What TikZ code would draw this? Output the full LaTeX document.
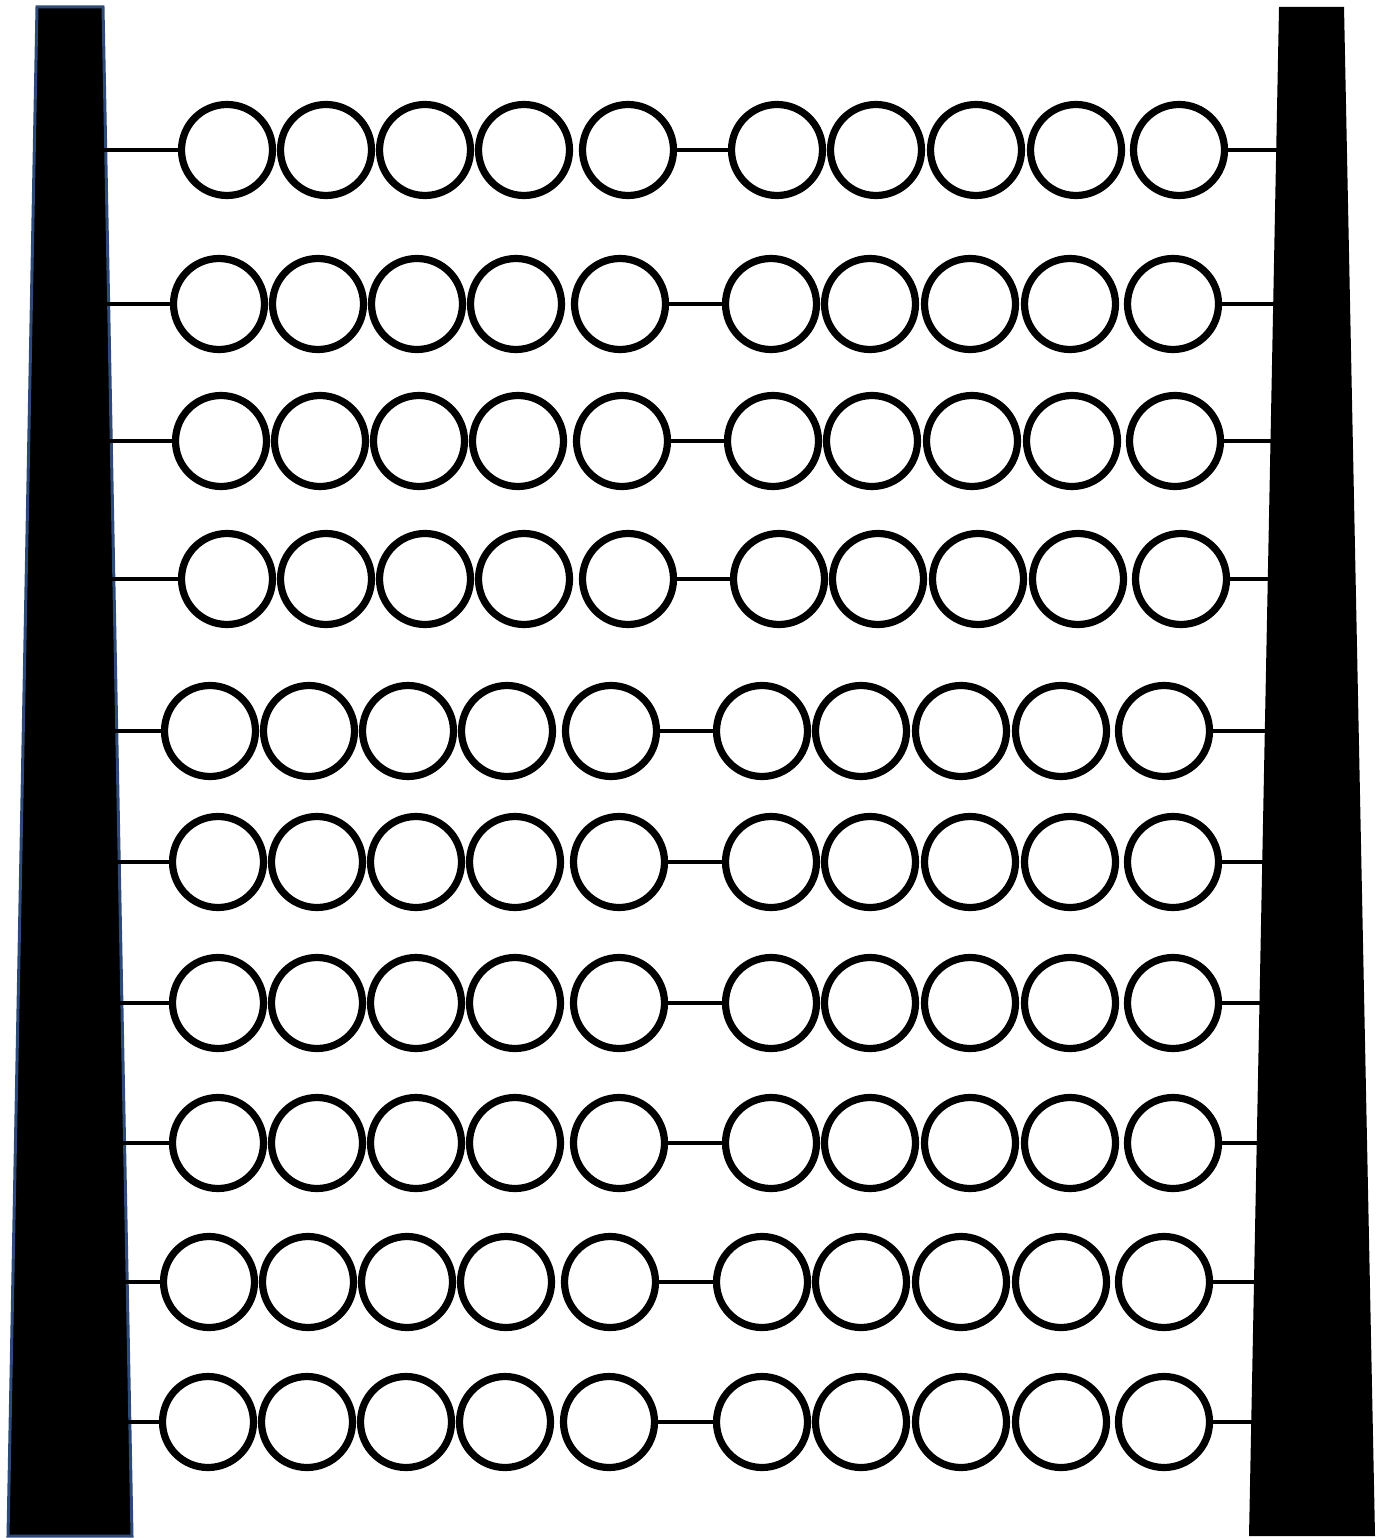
\documentclass[tikz,border=0pt]{standalone}
\usepackage{xcolor}
\usepackage{tikz}
\usetikzlibrary{positioning}

\definecolor{framebar}{HTML}{2E4A78}

\begin{document}
\begin{tikzpicture}[x=0.1mm, y=-0.1mm,
  bead/.style={circle, draw=black, fill=white, line width=0.72mm,
               minimum size=9.1mm, inner sep=0pt},
  wire/.style={black, line width=0.48mm}]

\useasboundingbox (0,0) rectangle (1385,1538);

% side bars
\filldraw[fill=black, draw=framebar, line width=0.3mm]
  (37,7) -- (103,7) -- (132,1536) -- (8,1536) -- cycle;
\fill[black]
  (1279,7) -- (1344,7) -- (1375,1536) -- (1249,1536) -- cycle;

% rows: number / y / first bead left half / first bead right half
\foreach \r/\y/\xa/\xb in {1/150/227/777, 2/304/219/771, 3/441/221/773,
                           4/579/227/779, 5/731/210/762, 6/862/218/771,
                           7/1003/218/771, 8/1143/218/771, 9/1282/209/762,
                           10/1422/208/762}{
  \pgfmathsetmacro\xl{100+(\y-7)/1529*29}
  \pgfmathsetmacro\xr{1282-(\y-7)/1529*30}
  \coordinate (L\r) at (\xl,\y);
  \coordinate (R\r) at (\xr,\y);
  \foreach \k/\dx in {1/0, 2/99, 3/198, 4/297, 5/401}{
    \node[bead] (b\r-\k) at (\xa+\dx,\y) {};
  }
  \foreach \k/\dx in {6/0, 7/99, 8/199, 9/299, 10/402}{
    \node[bead] (b\r-\k) at (\xb+\dx,\y) {};
  }
  \draw[wire] (L\r) -- (b\r-1);
  \draw[wire] (b\r-5) -- (b\r-6);
  \draw[wire] (b\r-10) -- (R\r);
}

\end{tikzpicture}
\end{document}
